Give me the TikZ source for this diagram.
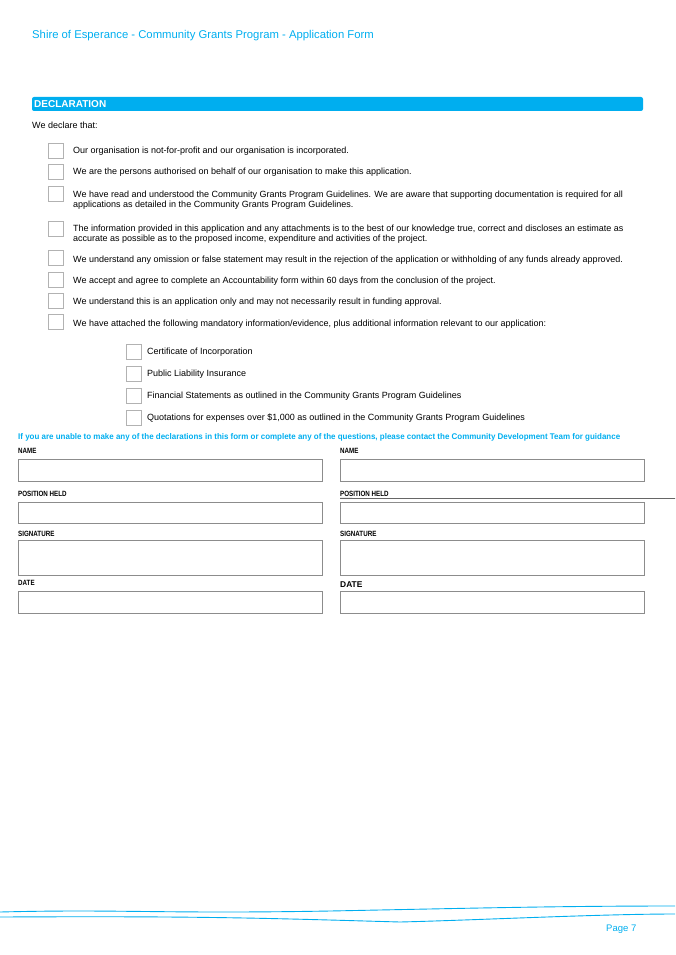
\documentclass[tikz,border=0pt]{standalone}
\usepackage{fontspec}
\setmainfont{Liberation Sans}
\usepackage{graphicx}
\definecolor{shireblue}{RGB}{0,174,239}
\tikzset{
  tick/.style={draw=black!30,line width=0.6pt,minimum width=15pt,minimum height=15pt,inner sep=0pt},
  item/.style={anchor=west,font=\fontsize{9}{10.5}\selectfont,align=left,inner sep=0pt},
  field/.style={draw=black!45,line width=0.7pt},
  lbl/.style={anchor=west,inner sep=0pt,font=\fontsize{7.6}{8}\selectfont\bfseries}
}
\newcommand{\narrow}[1]{\scalebox{0.82}[1]{#1}}
\begin{document}
\begin{tikzpicture}[x=1pt,y=-1pt]
        \useasboundingbox (0,0) rectangle (675,955);
        \node(title) at (32,36) [anchor=west,inner sep=0pt,text=shireblue,font=\fontsize{11.3}{13}\selectfont] {Shire of Esperance - Community Grants Program - Application Form};

        \fill[shireblue,rounded corners=2pt] (32,97) rectangle (643,111);
        \node(head) at (34,104) [anchor=west,inner sep=0pt,text=white,font=\fontsize{10}{11}\selectfont\bfseries] {DECLARATION};
        \node(intro) at (32,125) [item] {We declare that:};

        % main declarations
        \foreach \y/\t in {151/{Our organisation is not-for-profit and our organisation is incorporated.},
                           172/{We are the persons authorised on behalf of our organisation to make this application.},
                           200/{We have read and understood the Community Grants Program Guidelines. We are aware that supporting documentation is required for all\\applications as detailed in the Community Grants Program Guidelines.},
                           234/{The information provided in this application and any attachments is to the best of our knowledge true, correct and discloses an estimate as\\accurate as possible as to the proposed income, expenditure and activities of the project.},
                           260/{We understand any omission or false statement may result in the rejection of the application or withholding of any funds already approved.},
                           281/{We accept and agree to complete an Accountability form within 60 days from the conclusion of the project.},
                           302/{We understand this is an application only and may not necessarily result in funding approval.},
                           324/{We have attached the following mandatory information/evidence, plus additional information relevant to our application:}}
          \node(d\y) at (73,\y) [item] {\t};
        \foreach \y in {151,172,194,229,258,280,301,322}
          \node(b\y) at (56,\y) [tick] {};

        % attachments
        \foreach \y/\t in {352/{Certificate of Incorporation},374/{Public Liability Insurance},
                           396/{Financial Statements as outlined in the Community Grants Program Guidelines},
                           418/{Quotations for expenses over \$1,000 as outlined in the Community Grants Program Guidelines}} {
          \node(c\y) at (134,\y) [tick] {};
          \node(a\y) at (147,\y) [item] {\t};
        }

        \node(note) at (18,437) [anchor=west,inner sep=0pt,text=shireblue] {\resizebox{602pt}{6pt}{\bfseries If you are unable to make any of the declarations in this form or complete any of the questions, please contact the Community Development Team for guidance}};

        % signatories
        \foreach \x in {18,340} {
          \node(n\x) at (\x,451) [lbl] {\narrow{NAME}};
          \node(p\x) at (\x,494) [lbl] {\narrow{POSITION HELD}};
          \node(s\x) at (\x,534) [lbl] {\narrow{SIGNATURE}};
          \draw[field] (\x,459) rectangle ++(304,22);
          \draw[field] (\x,502) rectangle ++(304,21);
          \draw[field] (\x,540) rectangle ++(304,35);
          \draw[field] (\x,591) rectangle ++(304,22);
        }
        \node(t18) at (18,583) [lbl] {\narrow{DATE}};
        \node(t340) at (340,585) [lbl,font=\fontsize{8.4}{9}\selectfont\bfseries] {DATE};
        \coordinate(rule) at (675,498.5);
        \draw[black!60,line width=0.8pt] (p340.south west) ++(0,1.5) -- (rule);

        % footer
        \draw[shireblue,line width=0.9pt] (0,912) .. controls (120,909) and (160,914) .. (330,911) .. controls (480,908) and (560,906) .. (675,906);
        \draw[shireblue,line width=0.9pt] (0,917) .. controls (200,916) and (260,918) .. (400,922) .. controls (480,920) and (600,914) .. (675,914);
        \node(page) at (606,929) [anchor=west,inner sep=0pt,text=shireblue,font=\fontsize{9.5}{11}\selectfont] {Page 7};
\end{tikzpicture}
\end{document}
